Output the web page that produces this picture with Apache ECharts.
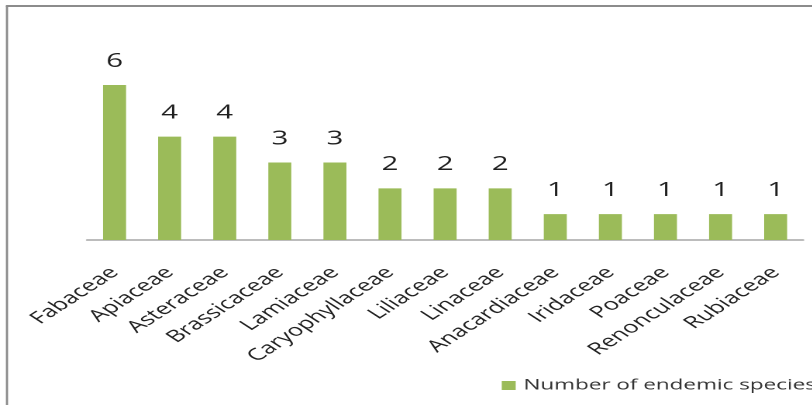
<!DOCTYPE html>
<html><head><meta charset="utf-8">
<script src="https://cdn.jsdelivr.net/npm/echarts@6/dist/echarts.min.js"></script>
<style>
html,body{margin:0;padding:0;background:#fff;overflow:hidden}
#wrap{width:812px;height:405px;overflow:hidden;position:relative}
#c{position:absolute;left:0;top:0;height:405px;transform-origin:0 0}
</style>
</head><body><div id="wrap"><div id="c"></div></div>
<script>
const categories = ["Fabaceae","Apiaceae","Asteraceae","Brassicaceae","Lamiaceae","Caryophyllaceae","Liliaceae","Linaceae","Anacardiaceae","Iridaceae","Poaceae","Renonculaceae","Rubiaceae"];
const endemicSpecies = [6,4,4,3,3,2,2,2,1,1,1,1,1];
const seriesName = "Number of endemic species";

// the reference picture is stretched horizontally; reproduce by scaling the chart canvas
const S = 1.55;
const W = 812 / S;
const el = document.getElementById('c');
el.style.width = W + 'px';
el.style.transform = 'scaleX(' + S + ')';

const chart = echarts.init(el, null, {devicePixelRatio: 2});
chart.setOption({
  animation: false,
  textStyle: {fontFamily: "Open Sans"},
  graphic: [
    {type:'line', shape:{x1:4.5, y1:6, x2:4.5, y2:420}, style:{stroke:'#8c8c8c', lineWidth:1.4}},
    {type:'line', shape:{x1:3.8, y1:6, x2:W+10, y2:6}, style:{stroke:'#8c8c8c', lineWidth:2}}
  ],
  grid: {left: 87 / S, right: 9 / S, top: 85, bottom: 165},
  legend: {left: 494 / S, top: 373, itemWidth: 9, itemHeight: 9, itemGap: 5,
    icon: 'rect', textStyle: {fontSize: 14.5, color: '#333333', fontFamily: 'Open Sans'}},
  xAxis: {type:'category', data: categories,
    axisLine:{lineStyle:{color:'#a6a6a6', width:1.5}}, axisTick:{show:false},
    axisLabel:{rotate:45, interval:0, margin:30, fontSize:16.5, color:'#1f1f1f', fontFamily:'Open Sans'}},
  yAxis: {type:'value', min:0, max:6, show:false, splitLine:{show:false}},
  series: [{type:'bar', name: seriesName, data: endemicSpecies, barWidth: 23 / S,
    itemStyle:{color:'#9BBB59'},
    label:{show:true, position:'top', distance:14, fontSize:19, color:'#1f1f1f', fontFamily:'Open Sans'}}]
});
</script></body></html>
